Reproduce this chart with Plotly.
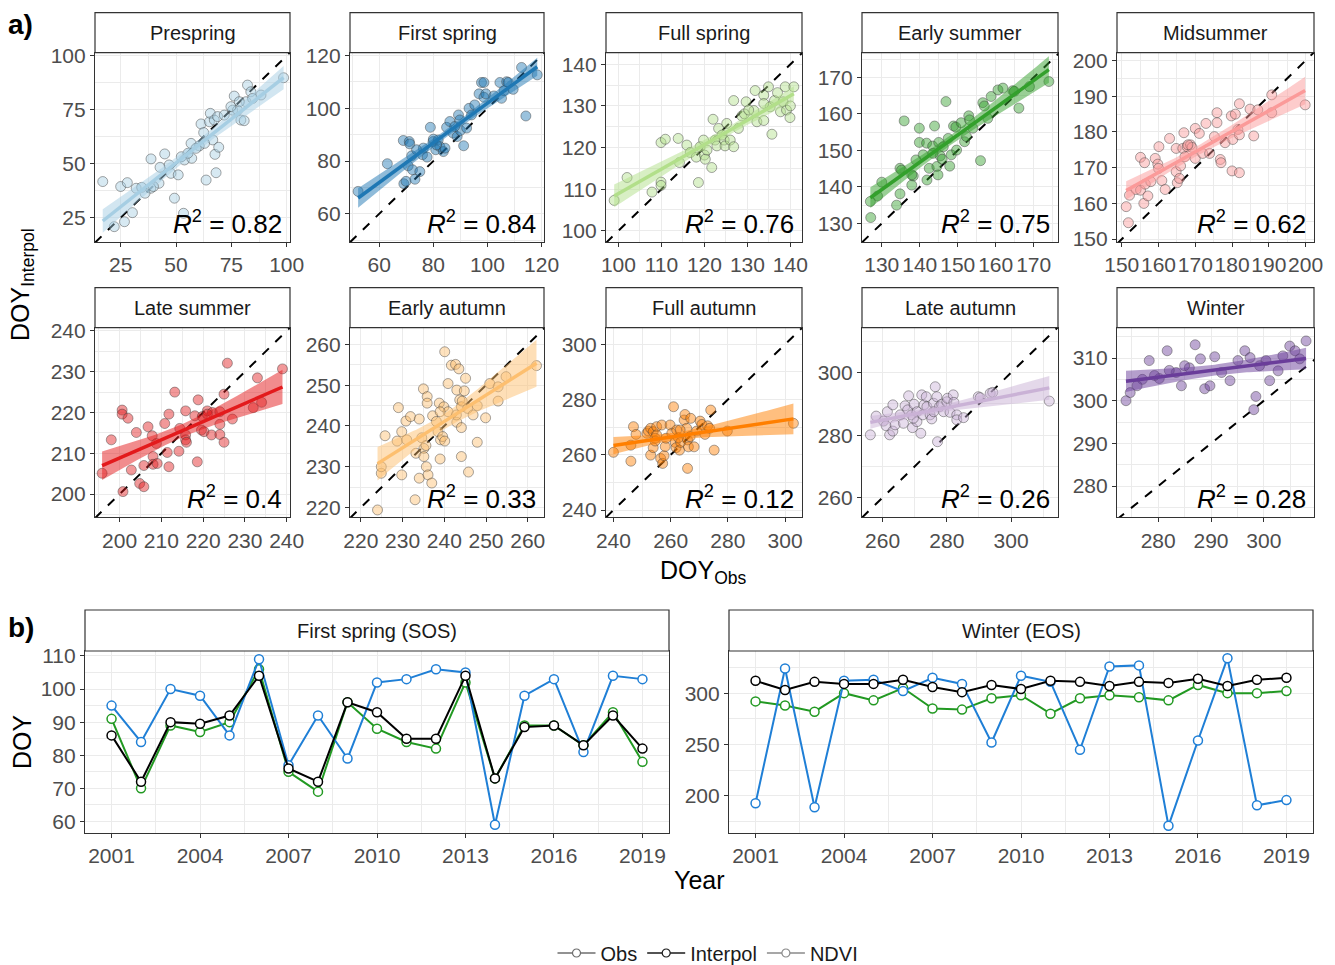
import numpy as np
import plotly.graph_objects as go

# ---------------- data ----------------
season_names = ["Prespring", "First spring", "Full spring", "Early summer", "Midsummer",
                "Late summer", "Early autumn", "Full autumn", "Late autumn", "Winter"]
season_colors = ["#a6cee3", "#1f78b4", "#b2df8a", "#33a02c", "#fb9a99",
                 "#e31a1c", "#fdbf6f", "#ff7f00", "#cab2d6", "#6a3d9a"]
r2_labels = ["0.82", "0.84", "0.76", "0.75", "0.62", "0.4", "0.33", "0.12", "0.26", "0.28"]

prespring_obs = [16.9,25,28,32,34.5,30.3,26.7,22.1,38.6,38.7,42.8,42.3,44.9,46.9,47.7,51,49.3,53.4,53.8,56.8,57.1,60.5,61.3,62.5,63.6,65.1,65.5,66.6,67.3,67.6,68.1,68.8,69.3,71.8,75.6,76.3,77.8,79.3,80.8,81.6,82.3,83.8,84.6,88.4,98.6,52.4,55.4,59.1,62.9,74.8,78.6,39.8,36]
prespring_int = [41.7,39.4,41.2,38.6,39,27.3,23.1,20.8,38.6,52.2,48.3,40.9,54.5,49.4,45.5,44.8,34,27,51.7,59.4,52.5,58.2,68.4,64.4,42.4,69.4,73.3,61,70.2,54.3,45.8,71.8,57.6,72.5,74.8,81.3,74.8,70.2,69.9,78.7,86.4,83.3,80.2,81.8,89.8,53.2,54.8,57.1,59.4,76.4,78.7,39.4,36.3]

firstspring_obs = [52.2,63,68.9,71.1,71.3,69.1,69.9,70.7,72,72.3,73.2,75,76,77.7,78.9,79.9,80.9,81.8,82.4,83.7,84.3,84.9,86.1,87.3,88.8,89.3,90,91.2,92.3,93.2,94.1,95.3,96.9,97.8,98.7,98.7,99.4,102.4,104.6,105.2,106.1,107.1,107.7,109.5,112.6,114.2,118.4,76.3,81.2,87.9,89.8,80,73.8]
firstspring_int = [68.5,79,87.8,87.4,86.5,71.4,72.3,78.2,82,76.7,73.1,76,82.4,81.5,92.8,87.4,84.3,88,85.5,83.6,84.9,92.8,95,90.6,89.3,97.5,91.6,85.8,92.5,100,97.5,101.3,105.5,109.8,109.8,104.2,105.5,104.7,109.8,103.8,106.7,110.1,109.8,107.2,115.5,97.1,112.7,84.9,86.1,93.1,95.6,88.3,84.3]

fullspring_obs = [99,102,107.8,109.9,109.9,109.9,110.9,113.9,114.2,115.9,116.7,118.1,118.6,119,119.8,120,120.2,121.7,122,122.5,122.9,123.3,124.1,124.6,124.8,125.2,126,126.8,126.8,127.9,128.7,129.3,129.7,131.5,131.8,132.2,133.8,133.8,134.9,135.3,135.7,136.3,137,137.7,138.3,138.8,139.1,139.9,140,140.8,133.8,130.3,120.6]
fullspring_int = [107.3,112.8,109.3,111.7,110.9,121.2,122,122.2,116.4,120.6,118.8,117.7,111.6,120.2,121.8,118.2,117.2,115.2,126.8,121.8,120.4,124.6,123,121.8,120.4,125.8,121.8,120.2,131.3,124.6,127.6,128.1,131,128.9,133.7,126.2,132.6,126.5,134.6,129.8,123.2,131.3,133.2,128.6,131,134.6,129,127.2,130,134.6,130.6,129,119.4]

earlysummer_obs = [127,127.1,128.9,130,133.9,134.8,134.8,135.2,135.9,137.9,138.3,139,139.9,139.9,140.9,141.9,141.8,142.5,143.4,143.9,144.5,144.8,145,145.4,145.9,146.9,147.5,147.9,148.3,148.9,149.5,150.9,151.8,152.3,152.9,154,156,156.6,157,157.9,158.8,160.6,161.9,164.5,164.9,166.1,168.9,174,149.7,146.2,143.5,137.9,153.1]
earlysummer_int = [136,131.6,137.5,141.3,135,138.1,145.1,144.6,158.1,140.5,143,147.4,156.1,152.2,148.8,141.9,152,145.1,151.2,156.7,145.6,143.3,152.2,148.5,147.6,163.4,153.3,145.7,148.8,156.7,156.4,157.6,152.4,153.8,159.5,156.1,147.2,163.1,162.2,158.8,164.8,166.6,167.1,166.4,166.2,161.6,167.5,168.9,150.1,151,149.2,143.3,158.4]

midsummer_obs = [151.2,151.8,152.1,153.9,155.1,155.1,156,156.2,156.4,157.1,157.9,159.1,159.8,160,160.1,160.9,161.8,163,164.8,164.8,165.1,165.7,166,166.6,166.9,167.2,167.8,168.7,169.1,170,170,171.1,172,172.9,173.9,175.9,175.9,176.8,177,178.1,179.8,180,180.2,180.9,181.6,182,182,182,184.9,185.9,187,190.8,190.8,199.9,168,175.2]
midsummer_int = [159.1,154.6,162.3,163.9,172.9,163.7,160,171.4,165.4,162.1,166.1,172.6,171,169.8,175.9,166.4,163.9,178.2,175.4,168.9,165.8,167,170.5,175.4,179.8,173.1,175.9,176.4,175.7,181,172.6,179.6,174,182.4,174,185.4,182.6,172.3,171.4,177,184.5,169.1,177.9,185,180.7,187.9,179.2,168.6,186.4,178.9,186.2,185.4,190.4,187.6,176.4,178.7]

latesummer_obs = [195.8,198,200.6,200.6,200.8,202,202.8,204,204.8,205.8,205.8,206.8,207.8,208,208,208.8,209,210.8,211.4,211.8,211.8,213.2,214.2,215.8,215.8,215.8,216,218,218.6,218.8,219.6,219.8,220.2,221,222,222.2,224,224,224,225,225,225.8,227,232,233,234,239,221,214.4]
latesummer_int = [205.1,213.3,220.6,219.6,200.6,218.6,205.9,215.1,202.6,201.8,207,216.5,214.3,209.2,207.3,212.4,207.5,217.3,210.2,219.6,206.7,225,210.5,220.4,214.5,213.3,212.7,219.2,207.9,223.1,215.7,219,215.3,220.4,214.5,220,220.2,217.1,214.6,224.5,212.7,232.1,218.4,221.2,228.5,222.5,230.7,219.6,216.1]

earlyautumn_obs = [224,224.9,224.9,225.8,228.7,229,229.8,229.8,230.8,231,231.9,233,233.2,234,234,234.6,235,235.1,235.1,235.6,235.7,235.9,235.9,236.1,237,237.2,238.1,238.5,238.8,239,239.1,239.6,239.9,240.1,240.1,240.9,240.9,241.7,242.7,243,243,243.5,243.7,244.1,244.1,244.3,244.8,245.1,245.6,245.8,246.9,247.9,247.9,249.9,250.9,252.9,252.9,254.8,262.1,239,242.9,244.1]
earlyautumn_int = [219.4,228.4,230,237.6,236.3,244.5,238.6,228,241.2,236.6,242.3,221.9,233.3,241.7,227.2,237.1,249.1,234.5,232.5,235.2,230,247.2,245.6,228,226,242.5,241.1,238.6,245.6,231.9,236.6,237.4,244.7,258.2,236.3,243.5,250.4,254.9,255.1,248.8,240.9,254,246.4,244.7,239.6,246.1,248.6,251.7,244.3,228.7,242.7,245,236,242,250.4,249.6,246.1,252.1,254.8,243.5,242.7,232.5]

fullautumn_obs = [240,246.1,246.1,247,247.9,251.7,252.2,253,253,253.9,253.9,254.6,254.6,255.1,256.5,256.9,257.2,257.7,258.1,258.4,259.8,260.4,261,261.6,261.9,262.1,262.7,263.1,263.5,264.7,265,265.6,265.9,265.9,266.2,266.8,267,268.2,269.1,270.3,270.9,272,272.9,274,275.2,273.6,279.8,302.9,255.1,263.3]
fullautumn_int = [260.9,257.7,263.5,270.2,267.4,267.8,268.6,269.6,259.9,268.4,262.6,266,265,270.2,258.7,270.8,256.9,259.7,263,266,270.8,267.8,277.4,264.5,262.6,269,266.2,261.7,264.5,272.6,274.6,269.6,255.1,265.4,262.9,266.6,273.2,262.9,268.6,272.2,271,267.4,270.5,276.2,261.7,269.6,268.6,271.4,267.2,269]

lateautumn_obs = [256.2,258,260.3,261.1,261.5,262.2,263.2,263.2,263.9,266.5,267,267.8,268.1,269,269.3,269.8,270.7,270.7,271.9,272.2,272.5,272.9,273.6,273.8,274.8,275.3,275.9,276.4,276.9,277.1,277.7,278.4,279,280,280.2,281,282,282.2,283.1,283.1,285.2,289.8,290.4,293.5,294.3,311.9,265.5,275.9,269.6]
lateautumn_int = [280.1,286.1,284.5,283,287.5,280.1,289.7,281.3,283.3,283.8,289.4,288.1,292.6,286.5,282.4,289.9,287.5,284.3,280.6,292.9,286.5,289.7,292.3,289.1,286.5,285.2,290.2,295.5,292.3,277.9,289.1,289.9,287.5,290.7,291.8,287.3,292.9,290.5,286.5,284.9,285.6,292.3,292,293.4,293.7,290.9,286.5,287.5,285.4]

winter_obs = [273.9,277,278.3,280.2,281.7,283.4,284.4,285.9,287,288,288.8,289.8,292,293.6,295.1,296.4,297.4,298.1,298.5,300.4,301.1,302.7,303.6,304.9,306.8,308,276,279.3,285,290.7,299.2,305.9,274.7,282.1]
winter_int = [300,305,309.4,305.2,311.7,306.6,303.5,307.7,313.1,309.8,302.8,303.5,306.6,304.7,309.4,311.7,310.1,297.9,301,309.4,304.7,307,310.5,312.8,309.8,314,303.5,305.9,308.2,310.3,308.2,311.7,301.9,307.1]

obs_sets = [prespring_obs, firstspring_obs, fullspring_obs, earlysummer_obs, midsummer_obs,
            latesummer_obs, earlyautumn_obs, fullautumn_obs, lateautumn_obs, winter_obs]
int_sets = [prespring_int, firstspring_int, fullspring_int, earlysummer_int, midsummer_int,
            latesummer_int, earlyautumn_int, fullautumn_int, lateautumn_int, winter_int]

# axis limits per panel
x_limits = [[13.4,101.5],[49.2,120.9],[97.1,142.7],[124.8,176.4],[148.7,202.3],
            [194.1,240.8],[217.4,263.9],[237.4,305.9],[253.6,314.6],[272.2,309.5]]
y_limits = [[13.7,101.4],[49.3,121.1],[97.3,142.8],[124.9,176.8],[149.2,202.2],
            [194.3,240.8],[217.6,264.1],[237.4,306.0],[253.7,314.4],[272.7,317.1]]
tick_steps = [25, 20, 10, 10, 10, 10, 10, 20, 20, 10]

# time series
years = list(range(2001, 2020))
sos_obs = [91,70,89,87,90,106,75,69,96,88,84,82,102,73,89,89,83,93,78]
sos_interp = [86,72,90,89.5,92,104,76,72,96,93,85,85,104,73,88.5,89,83,92,82]
sos_ndvi = [95,84,100,98,86,109,77,92,79,102,103,106,105,59,98,103,81,104,103]
eos_obs = [292,288,282,300,293,305,285,284,295,298,280,295,298,296,293,308,300,300,302]
eos_interp = [312,303,311,309,309,313,306,301,308,304,312,311,307,311,310,314,307,313,315]
eos_ndvi = [193,324,189,312,313,302,315,309,252,317,311,245,326,327,171,254,334,191,196]

# ---------------- layout helpers ----------------
W, H = 1335, 965
FONT = "Liberation Sans, Arial, sans-serif"

def px(x):
    return x / W

def py(y):
    return 1 - y / H

def rgba(hexc, a):
    h = hexc.lstrip("#")
    r, g, b = int(h[0:2], 16), int(h[2:4], 16), int(h[4:6], 16)
    return f"rgba({r},{g},{b},{a})"

col_left = [95, 350, 606, 862, 1117]
col_right = [290, 544, 802, 1058, 1314]
row_top = [52.7, 327.7]
row_bot = [242, 517.3]
strip_h = 40

fig = go.Figure()
layout = dict(
    width=W, height=H, margin=dict(l=0, r=0, t=0, b=0, autoexpand=False),
    paper_bgcolor="white", plot_bgcolor="white",
    font=dict(family=FONT, color="#1a1a1a"),
    showlegend=True,
)
shapes = []
annotations = []

def axis_style(dom, anchor, rng, step, minor_step):
    return dict(
        domain=dom, anchor=anchor, range=rng, automargin=False,
        showline=True, linecolor="#333333", linewidth=1.2, mirror=True,
        ticks="outside", ticklen=4, tickwidth=1, tickcolor="#333333",
        tickfont=dict(size=21, color="#4d4d4d", family=FONT), tickangle=0,
        tickmode="linear", tick0=0, dtick=step,
        showgrid=True, gridcolor="#ebebeb", gridwidth=1.2, zeroline=False,
        minor=dict(showgrid=True, gridcolor="#ebebeb", gridwidth=0.6,
                   tickmode="linear", tick0=0, dtick=minor_step, ticks=""),
    )

def fit_band(x, y):
    x = np.asarray(x, float); y = np.asarray(y, float); n = len(x)
    b, a = np.polyfit(x, y, 1)
    xs = np.linspace(x.min(), x.max(), 80)
    yh = a + b * xs
    res = y - (a + b * x)
    s = np.sqrt(np.sum(res ** 2) / (n - 2))
    se = s * np.sqrt(1 / n + (xs - x.mean()) ** 2 / np.sum((x - x.mean()) ** 2))
    t = 2.01
    return xs, yh, yh - t * se, yh + t * se

def label(text, x, y, size, xanchor="center", yanchor="middle", angle=0, color="black"):
    return dict(text=text, xref="paper", yref="paper", x=x, y=y,
                xanchor=xanchor, yanchor=yanchor, textangle=angle, showarrow=False,
                font=dict(size=size, color=color, family=FONT))

for i in range(10):
    r, c = divmod(i, 5)
    k = i + 1
    xa, ya = f"x{k}", f"y{k}"
    xdom = [px(col_left[c]), px(col_right[c])]
    ydom = [py(row_bot[r]), py(row_top[r])]
    step = tick_steps[i]
    layout[f"xaxis{k}"] = axis_style(xdom, ya, x_limits[i], step, step / 2)
    layout[f"yaxis{k}"] = axis_style(ydom, xa, y_limits[i], step, step / 2)
    col = season_colors[i]
    xo, yi = obs_sets[i], int_sets[i]
    # 1:1 line
    lo = min(x_limits[i][0], y_limits[i][0]); hi = max(x_limits[i][1], y_limits[i][1])
    fig.add_trace(go.Scatter(x=[lo, hi], y=[lo, hi], mode="lines", xaxis=xa, yaxis=ya,
                             line=dict(color="black", width=2, dash="dash"),
                             showlegend=False, hoverinfo="skip"))
    # points
    fig.add_trace(go.Scatter(x=xo, y=yi, mode="markers", xaxis=xa, yaxis=ya,
                             marker=dict(size=10, color=rgba(col, 0.45),
                                         line=dict(color="rgba(60,60,60,0.45)", width=1)),
                             showlegend=False, hoverinfo="skip"))
    # regression band + line
    xs, yh, lo_b, hi_b = fit_band(xo, yi)
    fig.add_trace(go.Scatter(x=list(xs) + list(xs[::-1]), y=list(hi_b) + list(lo_b[::-1]),
                             mode="lines", fill="toself", fillcolor=rgba(col, 0.5),
                             line=dict(width=0), xaxis=xa, yaxis=ya,
                             showlegend=False, hoverinfo="skip"))
    fig.add_trace(go.Scatter(x=xs, y=yh, mode="lines", xaxis=xa, yaxis=ya,
                             line=dict(color=col, width=3.5),
                             showlegend=False, hoverinfo="skip"))
    # strip
    shapes.append(dict(type="rect", xref="paper", yref="paper",
                       x0=px(col_left[c]), x1=px(col_right[c]),
                       y0=py(row_top[r]), y1=py(row_top[r] - strip_h),
                       line=dict(color="#333333", width=1.2), fillcolor="white"))
    annotations.append(label(season_names[i], px((col_left[c] + col_right[c]) / 2),
                             py(row_top[r] - strip_h / 2), 20, color="#1a1a1a"))
    # R2 label
    annotations.append(label(f"<i>R</i><sup>2</sup> = {r2_labels[i]}",
                             px(col_right[c] - 6), py(row_bot[r] - 1), 26,
                             xanchor="right", yanchor="bottom"))

# ---------------- bottom panels ----------------
b_left = [85, 729]
b_right = [669, 1313]
b_top, b_bot = 651, 833
b_titles = ["First spring (SOS)", "Winter (EOS)"]
b_yrange = [[56.5, 111.5], [164, 341]]
b_ystep = [10, 50]
green, blue = "#229922", "#1f7fd6"
series_sets = [(sos_obs, sos_interp, sos_ndvi), (eos_obs, eos_interp, eos_ndvi)]

for j in range(2):
    k = 11 + j
    xa, ya = f"x{k}", f"y{k}"
    xdom = [px(b_left[j]), px(b_right[j])]
    ydom = [py(b_bot), py(b_top)]
    xs_ax = axis_style(xdom, ya, [2000.1, 2019.9], 3, 1.5)
    xs_ax["tick0"] = 2001
    xs_ax["minor"]["tick0"] = 2001
    layout[f"xaxis{k}"] = xs_ax
    layout[f"yaxis{k}"] = axis_style(ydom, xa, b_yrange[j], b_ystep[j], b_ystep[j] / 2)
    obs, itp, ndvi = series_sets[j]
    for vals, colr in [(obs, green), (ndvi, blue), (itp, "black")]:
        fig.add_trace(go.Scatter(x=years, y=vals, mode="lines+markers", xaxis=xa, yaxis=ya,
                                 line=dict(color=colr, width=2),
                                 marker=dict(symbol="circle", size=9, color="white",
                                             line=dict(color=colr, width=1.5)),
                                 showlegend=False, hoverinfo="skip"))
    shapes.append(dict(type="rect", xref="paper", yref="paper",
                       x0=px(b_left[j]), x1=px(b_right[j]),
                       y0=py(b_top), y1=py(b_top - 41),
                       line=dict(color="#333333", width=1.2), fillcolor="white"))
    annotations.append(label(b_titles[j], px((b_left[j] + b_right[j]) / 2),
                             py(b_top - 20.5), 20, color="#1a1a1a"))

# legend entries (keys appear grey in the original)
for name, colr in [("Obs", "#6e6e6e"), ("Interpol", "#1a1a1a"), ("NDVI", "#8a8a8a")]:
    fig.add_trace(go.Scatter(x=[None], y=[None], mode="lines+markers", name=name,
                             xaxis="x11", yaxis="y11",
                             line=dict(color=colr, width=1.5),
                             marker=dict(symbol="circle", size=8, color="white",
                                         line=dict(color=colr, width=1.2))))

layout["legend"] = dict(orientation="h", x=px(708), xanchor="center", y=py(953),
                        yanchor="middle", font=dict(size=20, color="#1a1a1a"),
                        bgcolor="rgba(0,0,0,0)", tracegroupgap=0, itemwidth=38)

# axis titles and panel tags
annotations += [
    label("DOY<sub>Interpol</sub>", px(22), py(285), 25, angle=-90),
    label("DOY<sub>Obs</sub>", px(703), py(572), 25),
    label("DOY", px(22), py(742), 25, angle=-90),
    label("Year", px(699), py(880), 25),
    label("<b>a)</b>", px(6), py(24), 28, xanchor="left"),
    label("<b>b)</b>", px(6), py(627), 28, xanchor="left"),
]

layout["shapes"] = shapes
layout["annotations"] = annotations
fig.update_layout(**layout)
fig.write_html("out.html", config={"displayModeBar": False},
               post_script="document.body.style.margin='0';document.body.style.padding='0';"
                           "document.body.style.overflow='hidden';")
